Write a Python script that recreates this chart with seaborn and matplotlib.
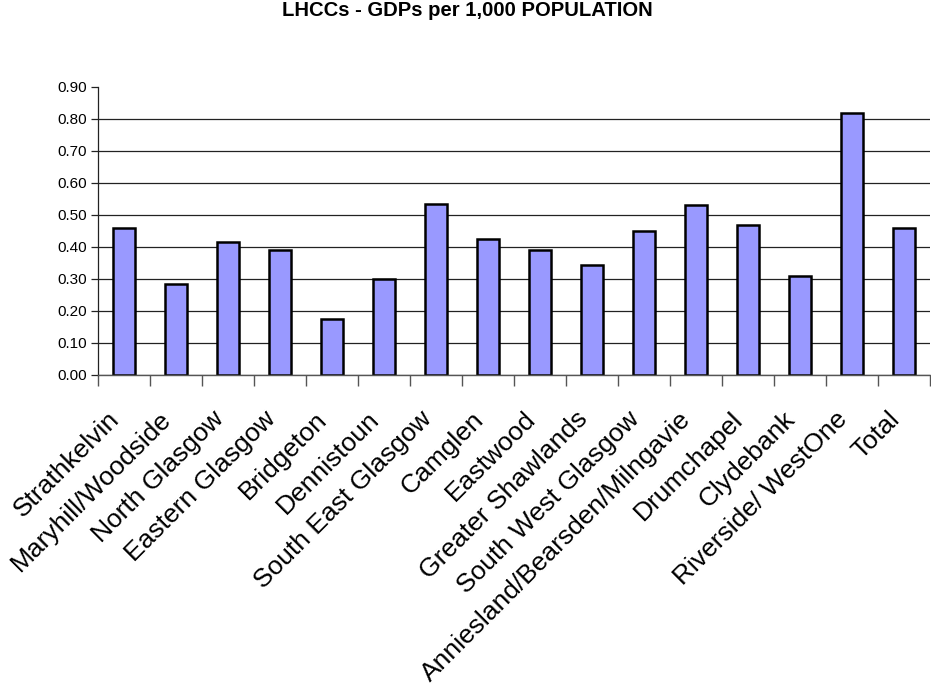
import matplotlib
matplotlib.use("Agg")
import matplotlib.pyplot as plt
from matplotlib.ticker import FixedLocator, FormatStrFormatter
import seaborn as sns
import pandas as pd

# GDPs per 1,000 population by LHCC
categories = [
    "Strathkelvin", "Maryhill/Woodside", "North Glasgow", "Eastern Glasgow",
    "Bridgeton", "Dennistoun", "South East Glasgow", "Camglen", "Eastwood",
    "Greater Shawlands", "South West Glasgow", "Anniesland/Bearsden/Milngavie",
    "Drumchapel", "Clydebank", "Riverside/ WestOne", "Total",
]
gdps_per_1000 = [
    0.46, 0.285, 0.415, 0.39, 0.175, 0.30, 0.535, 0.425, 0.39,
    0.345, 0.45, 0.53, 0.47, 0.31, 0.82, 0.46,
]
y_ticks = [0.0, 0.1, 0.2, 0.3, 0.4, 0.5, 0.6, 0.7, 0.8, 0.9]

df = pd.DataFrame({"LHCC": categories, "GDPs": gdps_per_1000})

sns.set_style("white")
plt.rcParams["font.family"] = ["Liberation Sans", "DejaVu Sans"]
plt.rcParams["text.color"] = "black"
plt.rcParams["xtick.color"] = "black"
plt.rcParams["ytick.color"] = "black"

fig = plt.figure(figsize=(9.31, 6.89), dpi=100)
ax = fig.add_axes([98 / 931, 1 - 375 / 689, (930 - 98) / 931, (375 - 87) / 689])

sns.barplot(data=df, x="LHCC", y="GDPs", color="#9999FF", saturation=1,
            edgecolor="black", linewidth=1.8, width=0.41, ax=ax)

ax.set_xlim(-0.5, len(categories) - 0.5)
ax.set_ylim(0, 0.9)
ax.set_xlabel("")
ax.set_ylabel("")

# y axis: ticks, labels and horizontal gridlines (none at the top value)
ax.yaxis.set_major_locator(FixedLocator(y_ticks))
ax.yaxis.set_major_formatter(FormatStrFormatter("%.2f"))
ax.grid(axis="y", color="#222222", linewidth=0.9)
ax.set_axisbelow(True)
ax.get_ygridlines()[-1].set_visible(False)
ax.tick_params(axis="y", which="major", left=True, length=5, width=0.9,
               color="#222222", labelsize=11, pad=3, labelcolor="black")

# x axis: labels at category centers, tick marks at category boundaries
ax.set_xticks(range(len(categories)))
ax.set_xticklabels(categories, rotation=45, ha="right", va="top",
                   rotation_mode="default", fontsize=19, color="black")
ax.set_xticks([i - 0.5 for i in range(len(categories) + 1)], minor=True)
ax.tick_params(axis="x", which="major", length=0, pad=23)
ax.tick_params(axis="x", which="minor", bottom=True, length=8, width=1.0,
               color="#555555")

for side in ("top", "right"):
    ax.spines[side].set_visible(False)
ax.spines["left"].set_color("#222222")
ax.spines["left"].set_linewidth(0.9)
ax.spines["bottom"].set_color("#555555")
ax.spines["bottom"].set_linewidth(1.0)

fig.text(0.5015, 1 - 11 / 689, "LHCCs - GDPs per 1,000 POPULATION",
         ha="center", va="center", fontsize=14.6, fontweight="bold",
         color="black")

fig.savefig("out.png", dpi=100)
